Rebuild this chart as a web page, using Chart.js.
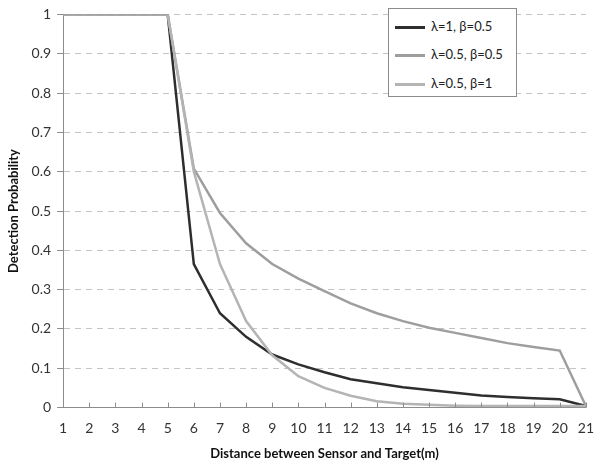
<!DOCTYPE html>
<html>
<head>
<meta charset="utf-8">
<script src="https://cdn.jsdelivr.net/npm/chart.js@4/dist/chart.umd.min.js"></script>
<style>
body { margin: 0; background: #fff; }
#wrap { position: relative; width: 598px; height: 466px; }
#legend {
    position: absolute; left: 388px; top: 8px; width: 127px; height: 87px;
    border: 1px solid #8c8c8c; background: #fff;
    font-family: Lato, sans-serif; font-size: 13px; color: #222;
}
#legend .row { position: absolute; left: 6px; height: 16px; line-height: 16px; }
#legend .swatch { display: inline-block; width: 30px; height: 0; vertical-align: middle; margin-right: 6px; }
</style>
</head>
<body>
<div id="wrap">
<canvas id="chart" width="598" height="466"></canvas>
<div id="legend"></div>
</div>
<script>
// data
let distances = ["1","2","3","4","5","6","7","8","9","10","11","12","13","14","15","16","17","18","19","20","21"];
let seriesNames = ["λ=1, β=0.5", "λ=0.5, β=0.5", "λ=0.5, β=1"];
let lam1beta05 = [1,1,1,1,1,0.365,0.24,0.18,0.135,0.11,0.09,0.072,0.062,0.052,0.045,0.038,0.031,0.027,0.024,0.021,0.004];
let lam05beta05 = [1,1,1,1,1,0.608,0.495,0.418,0.365,0.328,0.296,0.265,0.24,0.22,0.203,0.19,0.177,0.164,0.154,0.145,0.004];
let lam05beta1 = [1,1,1,1,1,0.6,0.365,0.22,0.133,0.08,0.05,0.03,0.016,0.01,0.007,0.005,0.004,0.004,0.004,0.004,0.004];
let yTicks = [0,0.1,0.2,0.3,0.4,0.5,0.6,0.7,0.8,0.9,1];

let colors = ["#2e2e2e", "#9e9e9e", "#b4b4b4"];
let allSeries = [lam1beta05, lam05beta05, lam05beta1];

let datasets = [];
for (let i = 0; i < allSeries.length; i++) {
    datasets.push({
        label: seriesNames[i],
        data: allSeries[i],
        borderColor: colors[i],
        backgroundColor: colors[i],
        borderWidth: 2.5,
        pointRadius: 0,
        tension: 0,
        fill: false
    })
}
// draw back to front like the picture (dark on top)
datasets.reverse();

// small tick marks pointing up from the x axis
const upTicks = {
    id: 'upTicks',
    afterDraw(chart) {
        let ctx = chart.ctx;
        let xs = chart.scales.x;
        let y0 = chart.chartArea.bottom;
        ctx.save();
        ctx.strokeStyle = "#8c8c8c";
        ctx.lineWidth = 1;
        for (let i = 0; i < xs.ticks.length; i++) {
            let px = Math.round(xs.getPixelForTick(i)) + 0.5;
            ctx.beginPath();
            ctx.moveTo(px, y0);
            ctx.lineTo(px, y0 - 5);
            ctx.stroke();
        }
        ctx.restore();
    }
}

let config = {
    type: 'line',
    data: {
        labels: distances,
        datasets: datasets
    },
    options: {
        responsive: false,
        animation: false,
        layout: {
            padding: {top: 0, right: 4, left: 2, bottom: 0}
        },
        plugins: {
            legend: {display: false},
            tooltip: {enabled: false}
        },
        scales: {
            x: {
                offset: false,
                grid: {display: false},
                border: {display: true, color: "#8c8c8c", width: 1},
                ticks: {
                    color: "#333",
                    font: {family: "Lato", size: 14},
                    maxRotation: 0,
                    autoSkip: false,
                    padding: 4
                },
                title: {
                    display: true,
                    text: "Distance between Sensor and Target(m)",
                    color: "#111",
                    font: {family: "Lato", size: 13, weight: "bold"},
                    padding: {top: 6}
                }
            },
            y: {
                min: 0,
                max: 1,
                afterBuildTicks: (axis) => {
                    axis.ticks = yTicks.map(v => ({value: v}));
                },
                grid: {
                    color: "#c4c4c4",
                    borderDash: [6, 5],
                    tickColor: "#8c8c8c",
                    tickLength: 6,
                    tickBorderDash: [],
                    drawTicks: true
                },
                border: {display: true, color: "#8c8c8c", width: 1, dash: [6, 5]},
                ticks: {
                    color: "#333",
                    font: {family: "Lato", size: 14},
                    padding: 6,
                    callback: (v) => String(Math.round(v * 10) / 10)
                },
                title: {
                    display: true,
                    text: "Detection Probability",
                    color: "#111",
                    font: {family: "Lato", size: 13, weight: "bold"},
                    padding: {bottom: 4}
                }
            }
        }
    },
    plugins: [upTicks]
}

let chart = new Chart(document.querySelector("#chart"), config);

// legend box inside the plot, same order as the picture
let legendBox = document.querySelector("#legend");
let rowTops = [9, 37, 66];
for (let i = 0; i < seriesNames.length; i++) {
    let row = document.createElement("div");
    row.className = "row";
    row.style.top = rowTops[i] + "px";
    let sw = document.createElement("span");
    sw.className = "swatch";
    sw.style.borderTop = "3px solid " + colors[i];
    row.appendChild(sw);
    row.appendChild(document.createTextNode(seriesNames[i]));
    legendBox.appendChild(row);
}
</script>
</body>
</html>
